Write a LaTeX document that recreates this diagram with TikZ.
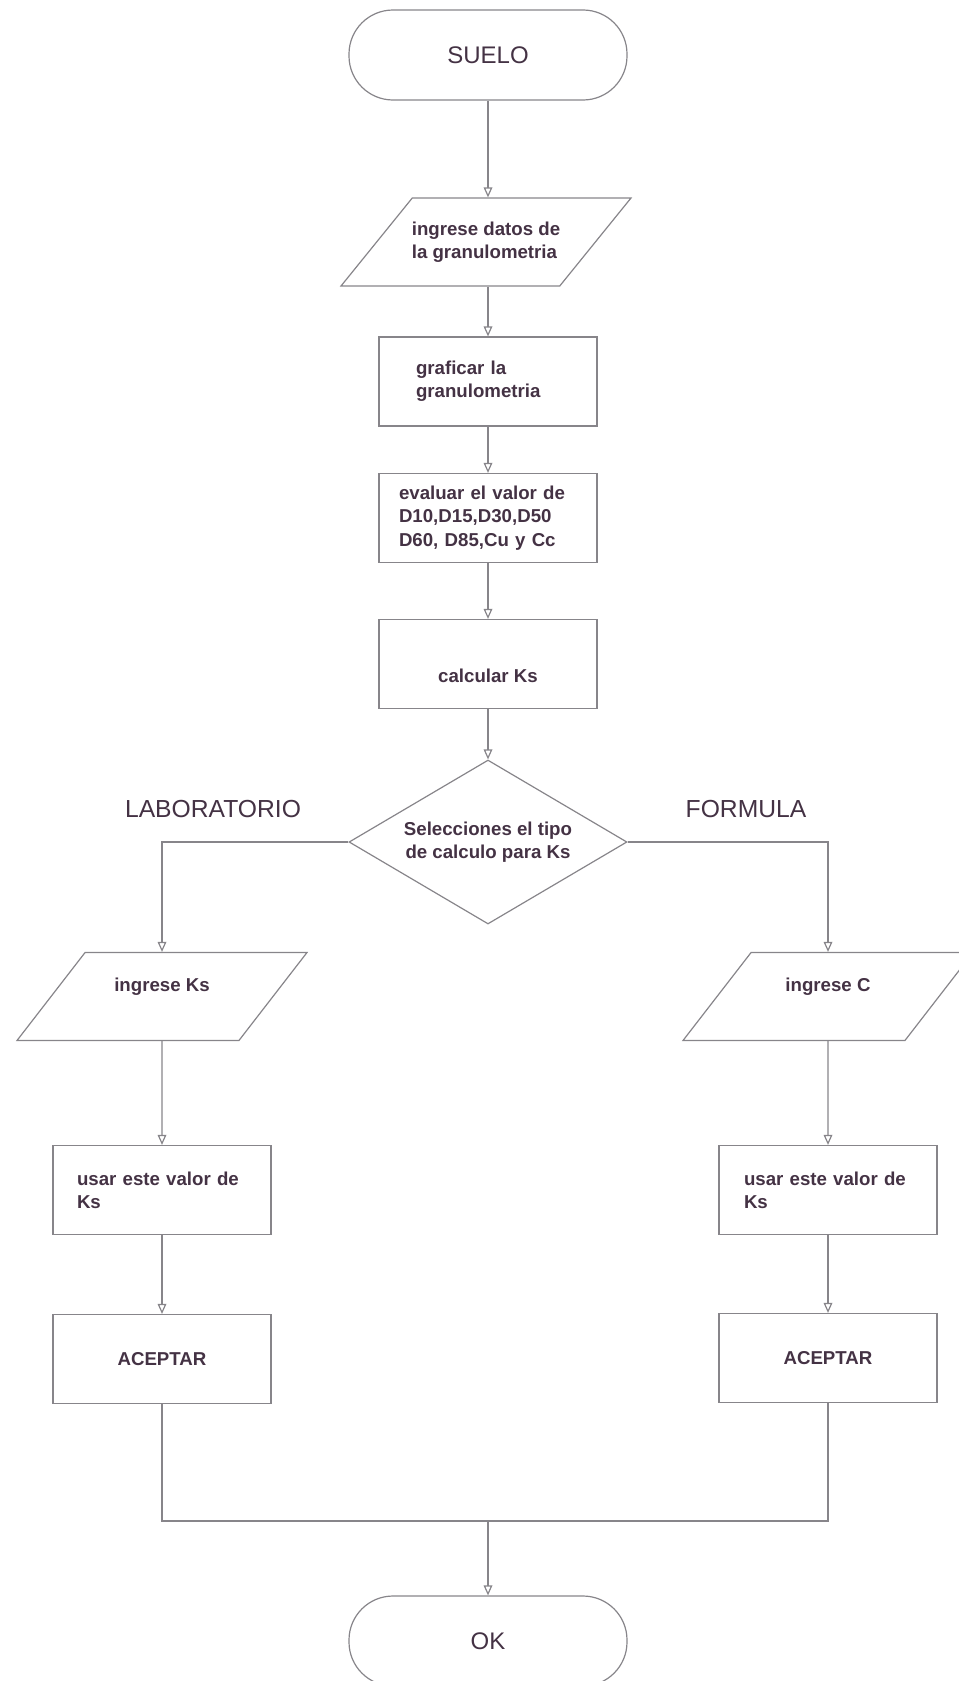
\documentclass[tikz,border=0pt]{standalone}
\usepackage{fontspec}
\setmainfont{Liberation Sans}
\usetikzlibrary{shapes.geometric,arrows.meta}

\definecolor{linegray}{RGB}{135,133,138}
\definecolor{inkpurple}{RGB}{68,50,68}

\tikzset{
  terminal/.style={draw, rounded corners=33pt,
    minimum width=208.5pt, minimum height=67.5pt,
    font=\fontsize{18}{22}\selectfont},
  process/.style={draw,
    minimum width=163.5pt, minimum height=66.75pt,
    font=\fontsize{14}{17.5}\selectfont\bfseries},
  io/.style={trapezium, trapezium left angle=51, trapezium right angle=129,
    trapezium stretches body, draw, inner ysep=17.7pt, inner xsep=-4pt,
    minimum width=217.5pt, minimum height=66pt,
    font=\fontsize{14}{17.5}\selectfont\bfseries},
  decision/.style={diamond, aspect=1.7, draw,
    minimum width=208.5pt, minimum height=123pt, inner sep=0pt, align=center,
    font=\fontsize{14}{17.5}\selectfont\bfseries},
  branch/.style={font=\fontsize{18.5}{22}\selectfont},
}

\begin{document}
\begin{tikzpicture}[x=0.75pt, y=-0.75pt, color=linegray, text=inkpurple,
    line width=0.9pt, >={Triangle[open, length=7.5pt, width=6.5pt]}]
    \useasboundingbox (0,0) rectangle (959,1681);
    \clip (0,0) rectangle (959,1681);

    % main column
    \node[terminal] (suelo) at (488,55) {SUELO};
    \node[io, align=left] (datos) at (486,242) {ingrese datos de\\la granulometria};
    \node[process, text width=108pt, align=left] (graf) at (488,381.5) {graficar la\\granulometria};
    \node[process, text width=133.5pt, align=left] (eval) at (488,518) {evaluar el valor de\\D10,D15,D30,D50\\D60, D85,Cu y Cc};
    \node[process, align=center] (calc) at (488,664) {\phantom{K}\\calcular Ks};
    \node[decision] (decide) at (488,842) {Selecciones el tipo\\de calculo para Ks};

    \node[branch] (lab) at (213,809) {LABORATORIO};
    \node[branch] (form) at (746,809) {FORMULA};

    % left branch
    \node[io, align=center] (inKs) at (162,996.5) {ingrese Ks\\\phantom{K}};
    \node[process, text width=127.5pt, align=left] (usarL) at (162,1190) {usar este valor de\\Ks};
    \node[process] (acepL) at (162,1359) {ACEPTAR};

    % right branch
    \node[io, align=center] (inC) at (828,996.5) {ingrese C\\\phantom{K}};
    \node[process, text width=126pt, align=left] (usarR) at (828,1190) {usar este valor de\\Ks};
    \node[process] (acepR) at (828,1358) {ACEPTAR};

    \coordinate (join) at (488,1521);
    \node[terminal] (ok) at (488,1641) {OK};

    \draw[->] (suelo) to (suelo |- datos.north);
    \draw[->] (datos.south -| graf) to (graf);
    \draw[->] (graf) to (eval);
    \draw[->] (eval) to (calc);
    \draw[->] (calc) to (decide);
    \draw[->] (decide.west) -| (inKs);
    \draw[->] (decide.east) -| (inC);
    \draw[->] (inKs) to (usarL);
    \draw[->] (usarL) to (acepL);
    \draw[->] (inC) to (usarR);
    \draw[->] (usarR) to (acepR);
    \draw (acepL) |- (join) -| (acepR);
    \draw[->] (join) to (ok);
\end{tikzpicture}
\end{document}
